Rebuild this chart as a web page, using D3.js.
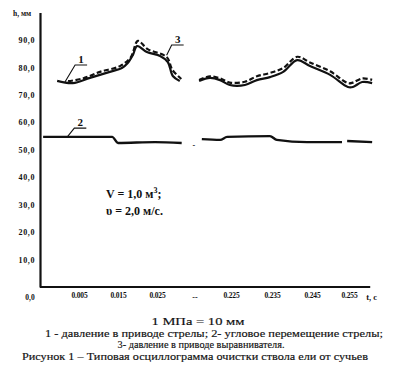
<!DOCTYPE html>
<html>
<head>
<meta charset="utf-8">
<script src="https://cdn.jsdelivr.net/npm/d3@7"></script>
<style>
  body { margin: 0; background: #fff; }
  svg { display: block; }
  text { font-family: "Liberation Serif", "DejaVu Serif", serif; fill: #111; }
</style>
</head>
<body>
<svg width="394" height="380"></svg>
<script>
// time (s) and values (mm); null = break in the trace
var curve1 = [
  [0.0022, 75.1], [0.0042, 74.3], [0.0078, 76.2], [0.0129, 78.4], [0.0160, 79.8],
  [0.0175, 81.6], [0.0188, 84.5], [0.0199, 87.8], [0.0224, 85.6], [0.0258, 84.2],
  [0.0278, 82.0], [0.0291, 76.9], [0.0309, 75.1],
  null,
  [0.2168, 75.1], [0.2196, 76.2], [0.2222, 75.4], [0.2247, 73.6], [0.2284, 73.6],
  [0.2313, 75.4], [0.2345, 76.5], [0.2378, 78.4], [0.2413, 82.7], [0.2445, 80.5],
  [0.2499, 77.3], [0.2547, 72.9], [0.2560, 72.9], [0.2584, 74.7], [0.2610, 74.3]
];
var curve3 = [
  [0.0036, 75.0], [0.0060, 76.0], [0.0104, 78.4], [0.0155, 80.5], [0.0183, 83.8],
  [0.0201, 89.7], [0.0226, 86.7], [0.0275, 83.8], [0.0290, 79.1], [0.0313, 75.8],
  null,
  [0.2168, 75.4], [0.2196, 76.8], [0.2222, 76.0], [0.2247, 74.5], [0.2284, 74.8],
  [0.2313, 76.8], [0.2345, 78.0], [0.2378, 79.8], [0.2413, 83.9], [0.2445, 81.8],
  [0.2499, 78.6], [0.2547, 74.3], [0.2560, 74.5], [0.2584, 76.0], [0.2610, 75.5]
];
var curve2 = [
  [0.0004, 54.7], [0.0135, 54.7], [0.0150, 52.5], [0.0245, 52.8], [0.0314, 52.5],
  null,
  [0.2175, 53.9], [0.2222, 53.6], [0.2240, 54.7], [0.2345, 55.0], [0.2362, 53.6],
  [0.2438, 52.8], [0.2531, 52.8],
  null,
  [0.2545, 53.2], [0.2610, 52.8]
];

// broken time axis: breakpoints and where they sit
var xBreaks = [0, 0.005, 0.015, 0.025, 0.032, 0.216, 0.225, 0.235, 0.245, 0.255, 0.262];
var xTicks = [0.005, 0.015, 0.025, 0.225, 0.235, 0.245, 0.255];
var yTicks = [10, 20, 30, 40, 50, 60, 70, 80, 90];

// curve labels: underline start and leader end, in data units
var labels = [
  { name: "1", t: 0.0045, v: 80.9, et: 0.0032, ev: 74.7 },
  { name: "3", t: 0.0288, v: 88.2, et: 0.0275, ev: 84.5 },
  { name: "2", t: 0.0044, v: 57.9, et: 0.0035, ev: 54.7 }
];

var caption = [
  "1 МПа = 10 мм",
  "1 - давление в приводе стрелы; 2- угловое перемещение стрелы;",
  "3- давление в приводе выравнивателя.",
  "Рисунок 1 – Типовая осциллограмма очистки ствола ели от сучьев"
];

var svg = d3.select("svg");

var x = d3.scaleLinear()
    .domain(xBreaks)
    .range([40, 79, 118, 157, 184, 196, 231, 272, 312, 349, 376]);
var y = d3.scaleLinear().domain([0, 100]).range([287, 12.6]);

// axes
var yAxis = svg.append("g")
    .attr("transform", "translate(40,0)")
    .call(d3.axisLeft(y).tickValues(yTicks).tickSize(0).tickPadding(5)
      .tickFormat(function(d) { return d.toFixed(1).replace(".", ","); }));
yAxis.select(".domain").attr("stroke", "#111").attr("stroke-width", 2.2);
yAxis.selectAll("text")
    .style("font-size", "8px").style("font-weight", "bold").style("letter-spacing", "0.6px");

var xAxis = svg.append("g")
    .attr("transform", "translate(0,287)")
    .call(d3.axisBottom(x).tickValues(xTicks).tickSize(0).tickPadding(6)
      .tickFormat(d3.format(".3f")));
xAxis.select(".domain").attr("stroke", "#111").attr("stroke-width", 2.2)
    .attr("d", "M" + x(0) + ",0H" + x(0.2605));
xAxis.selectAll("text")
    .style("font-size", "7.5px").style("font-weight", "bold").style("letter-spacing", "-0.2px");

// origin, break mark and axis names
svg.append("text").attr("x", x(0) - 10).attr("y", 300)
    .attr("text-anchor", "middle").style("font-size", "7.5px").style("font-weight", "bold")
    .text("0,0");
svg.append("text").attr("x", x(0.2)).attr("y", 300)
    .attr("text-anchor", "middle").style("font-size", "8px").style("font-weight", "bold")
    .text("--");
svg.append("text").attr("x", x(0.2) - 1).attr("y", y(50.5))
    .attr("text-anchor", "middle").style("font-size", "8px").style("font-weight", "bold")
    .text("-");
svg.append("text").attr("x", x(0.2605) - 4).attr("y", 300)
    .style("font-size", "8.5px").style("font-weight", "bold")
    .text("t, c");
svg.append("text").attr("x", 13).attr("y", 16)
    .style("font-size", "7.5px").style("font-weight", "bold")
    .text("h, мм");

// traces
var line = d3.line()
    .defined(function(d) { return d !== null; })
    .x(function(d) { return x(d[0]); })
    .y(function(d) { return y(d[1]); })
    .curve(d3.curveCatmullRom.alpha(0.5));

svg.append("path").datum(curve3).attr("d", line)
    .attr("fill", "none").attr("stroke", "#111").attr("stroke-width", 2.2)
    .attr("stroke-dasharray", "5,2.5");
svg.append("path").datum(curve1).attr("d", line)
    .attr("fill", "none").attr("stroke", "#111").attr("stroke-width", 2.2);
svg.append("path").datum(curve2).attr("d", line.curve(d3.curveMonotoneX))
    .attr("fill", "none").attr("stroke", "#111").attr("stroke-width", 2.4);

// curve labels
var lab = svg.selectAll(".lab").data(labels).enter().append("g").attr("class", "lab");
lab.append("path")
    .attr("d", function(d) {
      return "M" + x(d.et) + "," + y(d.ev) + "L" + x(d.t) + "," + y(d.v) + "h12";
    })
    .attr("fill", "none").attr("stroke", "#111").attr("stroke-width", 1.1);
lab.append("text")
    .attr("x", function(d) { return x(d.t) + 6; })
    .attr("y", function(d) { return y(d.v) - 2; })
    .attr("text-anchor", "middle")
    .style("font-size", "11px").style("font-weight", "bold")
    .text(function(d) { return d.name; });

// parameters
var par = svg.append("g").style("font-size", "12px").style("font-weight", "bold");
var v1 = par.append("text").attr("x", 106).attr("y", 198);
v1.append("tspan").text("V = 1,0 м");
v1.append("tspan").attr("dy", -5).style("font-size", "8px").text("3");
v1.append("tspan").attr("dy", 5).text(";");
par.append("text").attr("x", 106).attr("y", 215).text("υ = 2,0 м/с.");

// caption
var capX = [198, 214, 201, 195];
var capY = [325, 336.5, 348, 359.5];
var capW = [93, 338, 167, 346];
svg.selectAll(".cap").data(caption).enter().append("text")
    .attr("class", "cap")
    .attr("x", function(d, i) { return capX[i]; })
    .attr("y", function(d, i) { return capY[i]; })
    .attr("text-anchor", "middle")
    .attr("textLength", function(d, i) { return capW[i]; })
    .attr("lengthAdjust", "spacingAndGlyphs")
    .style("font-size", "10px")
    .style("stroke", "#111").style("stroke-width", 0.15)
    .text(function(d) { return d; });
</script>
</body>
</html>
